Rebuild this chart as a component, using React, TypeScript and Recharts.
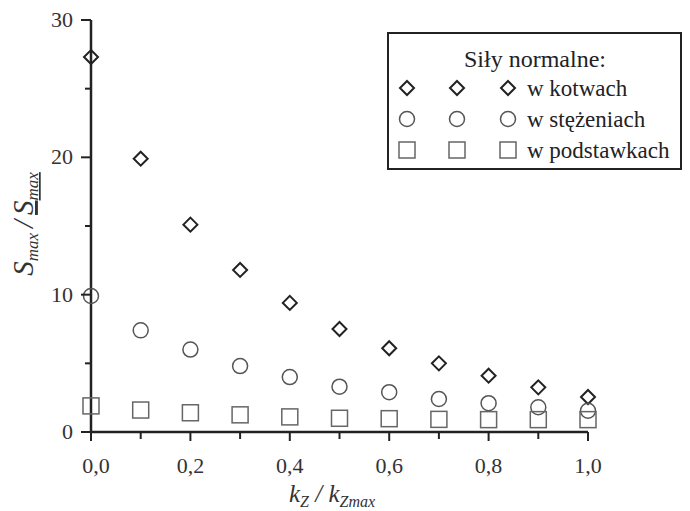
import { ScatterChart, Scatter, XAxis, YAxis } from "recharts";

const kz = [0, 0.1, 0.2, 0.3, 0.4, 0.5, 0.6, 0.7, 0.8, 0.9, 1.0];
const kotwach = [27.3, 19.9, 15.1, 11.8, 9.4, 7.5, 6.1, 5.0, 4.1, 3.25, 2.55];
const stezeniach = [9.9, 7.4, 6.0, 4.8, 4.0, 3.3, 2.9, 2.4, 2.1, 1.8, 1.55];
const podstawkach = [1.9, 1.6, 1.4, 1.25, 1.1, 1.0, 0.97, 0.92, 0.9, 0.9, 0.9];

const xTicks = [0, 0.1, 0.2, 0.3, 0.4, 0.5, 0.6, 0.7, 0.8, 0.9, 1.0];
const yTicks = [0, 5, 10, 15, 20, 25, 30];

const FONT = "'Liberation Serif', 'Times New Roman', serif";

const toPoints = (ys: number[]) => kz.map((x, i) => ({ x, y: ys[i] }));

const Diamond = ({ cx, cy }: any) => (
  <path
    d={`M${cx},${cy - 7}L${cx + 7},${cy}L${cx},${cy + 7}L${cx - 7},${cy}Z`}
    fill="none"
    stroke="#222"
    strokeWidth={2}
  />
);
const Circle = ({ cx, cy }: any) => (
  <circle cx={cx} cy={cy} r={7.5} fill="none" stroke="#555" strokeWidth={1.5} />
);
const Square = ({ cx, cy }: any) => (
  <rect x={cx - 8} y={cy - 8} width={16} height={16} fill="none" stroke="#666" strokeWidth={1.5} />
);

const series = [
  { name: "w kotwach", data: kotwach, Shape: Diamond },
  { name: "w stężeniach", data: stezeniach, Shape: Circle },
  { name: "w podstawkach", data: podstawkach, Shape: Square },
];

const XTick = ({ x, y, payload }: any) => {
  const v = payload.value;
  const major = Math.round(v * 10) % 2 === 0;
  return (
    <g>
      <line x1={x} x2={x} y1={y} y2={y + (major ? 9 : 7)} stroke="#222" strokeWidth={2} />
      {major && (
        <text
          x={x + (v === 0 ? 5 : 0)}
          y={y + 41}
          textAnchor="middle"
          fontSize={22}
          fill="#333"
          fontFamily={FONT}
        >
          {v.toFixed(1).replace(".", ",")}
        </text>
      )}
    </g>
  );
};

const YTick = ({ x, y, payload }: any) => {
  const v = payload.value;
  const major = v % 10 === 0;
  return (
    <g>
      <line x1={x} x2={x - (major ? 10 : 6)} y1={y} y2={y} stroke="#222" strokeWidth={2} />
      {major && (
        <text x={x - 18} y={y + 7} textAnchor="end" fontSize={22} fill="#333" fontFamily={FONT}>
          {v}
        </text>
      )}
    </g>
  );
};

const LegendBox = () => (
  <svg width={295} height={138} style={{ display: "block" }}>
    <rect x={1} y={1} width={293} height={136} fill="#fff" stroke="#222" strokeWidth={2} />
    <text x={148} y={35} textAnchor="middle" fontSize={24} fill="#222" fontFamily={FONT}>
      Siły normalne:
    </text>
    {series.map((s, i) => {
      const cy = 56 + i * 31;
      return (
        <g key={s.name}>
          {[20, 70, 121].map((cx) => (
            <s.Shape key={cx} cx={cx} cy={cy} />
          ))}
          <text x={140} y={cy + 8} fontSize={23} fill="#222" fontFamily={FONT}>
            {s.name}
          </text>
        </g>
      );
    })}
  </svg>
);

export default function App() {
  return (
    <div style={{ position: "absolute", left: 0, top: 0, width: 690, height: 511, background: "#fff" }}>
      <ScatterChart width={690} height={511} margin={{ top: 20, right: 102, bottom: 0, left: 0 }}>
        <XAxis
          type="number"
          dataKey="x"
          domain={[0, 1]}
          ticks={xTicks}
          interval={0}
          height={79}
          tickSize={0}
          tickMargin={0}
          tickLine={false}
          axisLine={{ stroke: "#222", strokeWidth: 2.5 }}
          tick={<XTick />}
          label={{
            position: "insideBottom",
            content: () => (
              <text x={332} y={502} textAnchor="middle" fontSize={25} fill="#333" fontFamily={FONT} fontStyle="italic">
                k<tspan fontSize={16} dy={5}>Z</tspan>
                <tspan dy={-5}> / k</tspan>
                <tspan fontSize={16} dy={5}>Zmax</tspan>
              </text>
            ),
          }}
        />
        <YAxis
          type="number"
          dataKey="y"
          domain={[0, 30]}
          ticks={yTicks}
          interval={0}
          width={91}
          tickSize={0}
          tickMargin={0}
          tickLine={false}
          axisLine={{ stroke: "#222", strokeWidth: 2.5 }}
          tick={<YTick />}
          label={{
            position: "insideLeft",
            content: () => (
              <text
                x={0}
                y={0}
                transform="translate(33,224) rotate(-90)"
                textAnchor="middle"
                fontSize={29}
                fill="#333"
                fontFamily={FONT}
                fontStyle="italic"
              >
                S<tspan fontSize={17} dy={5}>max</tspan>
                <tspan dy={-5} dx={5}>/</tspan>
                <tspan dx={5} textDecoration="underline">S</tspan>
                <tspan fontSize={17} dy={5} textDecoration="underline">max</tspan>
              </text>
            ),
          }}
        />
        {series.map((s) => (
          <Scatter
            key={s.name}
            name={s.name}
            data={toPoints(s.data)}
            isAnimationActive={false}
            shape={(p: any) => <s.Shape cx={p.cx} cy={p.cy} />}
          />
        ))}
      </ScatterChart>
      <div style={{ position: "absolute", left: 387, top: 32 }}>
        <LegendBox />
      </div>
    </div>
  );
}
